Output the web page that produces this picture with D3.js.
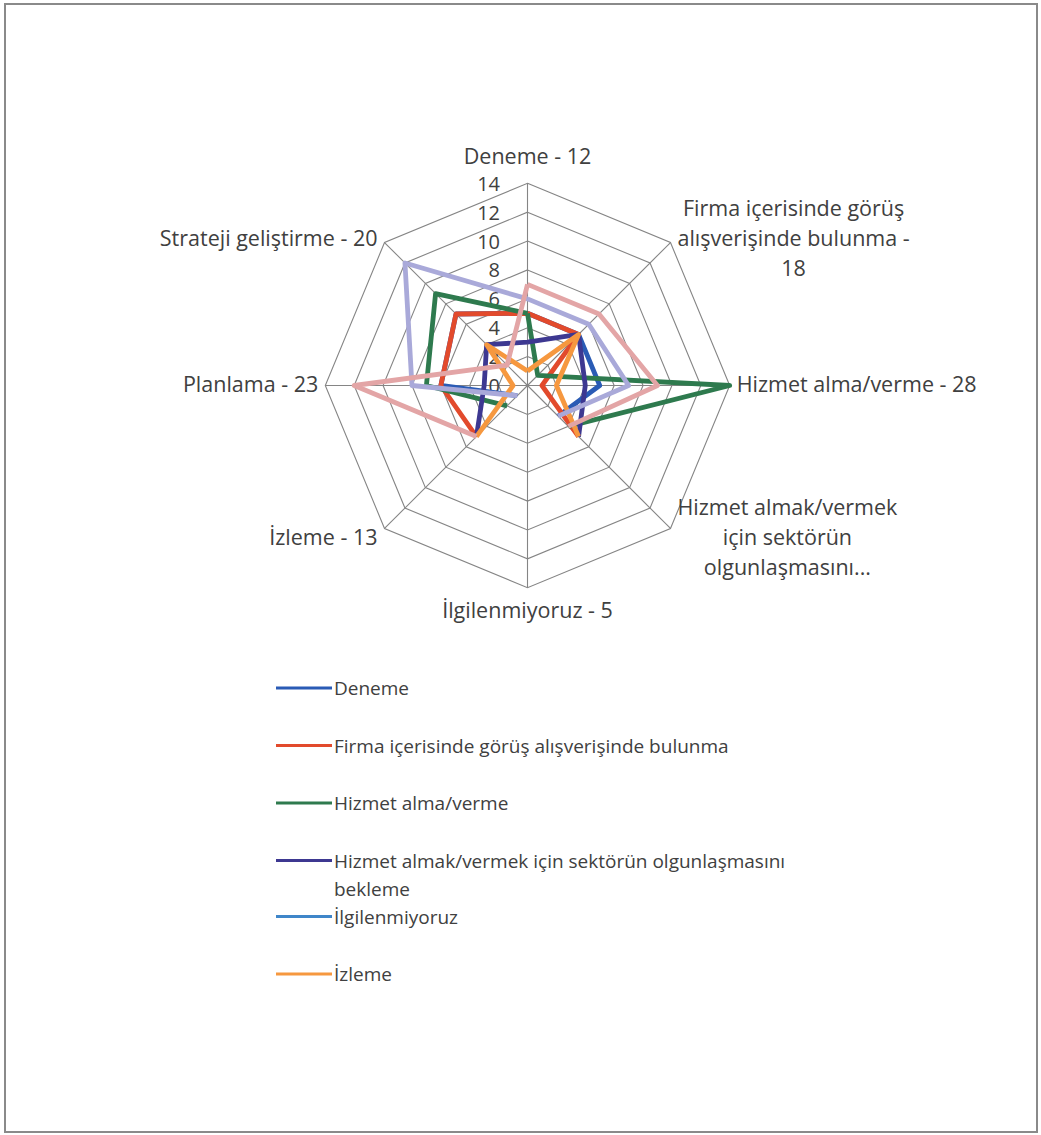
<!DOCTYPE html>
<html>
<head>
<meta charset="utf-8">
<script src="https://cdn.jsdelivr.net/npm/d3@7/dist/d3.min.js"></script>
<style>
  html, body { margin: 0; padding: 0; background: #fff; }
  svg { display: block; }
  text { font-family: "Open Sans", Lato, sans-serif; fill: #404040; }
</style>
</head>
<body>
<svg id="chart" width="1041" height="1135"></svg>
<script>
// Axis categories (clockwise from the top) and their wrapped label lines
const categories = [
  "Deneme - 12",
  "Firma içerisinde görüş alışverişinde bulunma - 18",
  "Hizmet alma/verme - 28",
  "Hizmet almak/vermek için sektörün olgunlaşmasını...",
  "İlgilenmiyoruz - 5",
  "İzleme - 13",
  "Planlama - 23",
  "Strateji geliştirme - 20"
];
const categoryLines = [
  ["Deneme - 12"],
  ["Firma içerisinde görüş", "alışverişinde bulunma -", "18"],
  ["Hizmet alma/verme - 28"],
  ["Hizmet almak/vermek", "için sektörün", "olgunlaşmasını..."],
  ["İlgilenmiyoruz - 5"],
  ["İzleme - 13"],
  ["Planlama - 23"],
  ["Strateji geliştirme - 20"]
];

// Radial value ticks
const ticks = [0, 2, 4, 6, 8, 10, 12, 14];

// Series names, colours and values (null = empty cell, drawn as a gap)
const seriesNames = [
  "Deneme",
  "Firma içerisinde görüş alışverişinde bulunma",
  "Hizmet alma/verme",
  "Hizmet almak/vermek için sektörün olgunlaşmasını bekleme",
  "İlgilenmiyoruz",
  "İzleme",
  "Planlama",
  "Strateji geliştirme"
];
const seriesColors = ["#2A5BB5", "#E24A2C", "#2E7A4E", "#3D3891", "#3F86C9", "#F6983F", "#A9A9D9", "#E3A5A6"];

const deneme         = [5, 5, 5, 3, null, 1, 6, 7];
const firma          = [5, 5, 1, 5, null, 5, 6, 7];
const hizmetAlma     = [5, 1, 14, 4, null, 2, 7, 9];
const hizmetAlmak    = [3, 5, 4, 5, null, 5, 3, 4];
const ilgilenmiyoruz = [0, 0, 0, 0, null, 0, 0, 0];
const izleme         = [1, 5, 2, 5, null, 5, 1, 4];
const planlama       = [6, 6, 7, 3, null, 1, 8, 12];
const strateji       = [7, 7, 9, 4, null, 5, 12, 2];

const seriesValues = [deneme, firma, hizmetAlma, hizmetAlmak, ilgilenmiyoruz, izleme, planlama, strateji];
const legendCount = 6; // entries that fit in the legend box

const svg = d3.select("#chart");
const cx = 527.5, cy = 385.5, R = 202.2;
const n = categories.length;

// Outer frame
svg.append("rect")
  .attr("x", 5).attr("y", 4).attr("width", 1032).attr("height", 1128)
  .attr("fill", "none").attr("stroke", "#8a8a8a").attr("stroke-width", 2);

const r = d3.scaleLinear().domain([0, 14]).range([0, R]);
const angle = d3.scaleLinear().domain([0, n]).range([0, 2 * Math.PI]);

const g = svg.append("g").attr("transform", `translate(${cx},${cy})`);

const pt = (i, v) => {
  const a = angle(i);
  return [Math.sin(a) * r(v), -Math.cos(a) * r(v)];
};

// Grid rings
const grid = g.append("g").attr("stroke", "#858585").attr("stroke-width", 1.1).attr("fill", "none");
ticks.filter(t => t > 0).forEach(t => {
  grid.append("path")
    .attr("d", d3.line()(d3.range(n).map(i => pt(i, t))) + "Z");
});
// Spokes
d3.range(n).forEach(i => {
  const [x, y] = pt(i, 14);
  grid.append("line").attr("x1", 0).attr("y1", 0).attr("x2", x).attr("y2", y);
});

// Tick labels along the top spoke
const tickFont = 20, labelFont = 21.5, legendFont = 19;
g.append("g").selectAll("text").data(ticks).join("text")
  .attr("x", -27.5)
  .attr("y", d => -r(d))
  .attr("text-anchor", "end")
  .attr("dominant-baseline", "central")
  .style("font-size", tickFont + "px")
  .text(d => d);

// Series lines; the path wraps back to the first value to close the shape
const line = d3.lineRadial()
  .angle(d => d.a)
  .radius(d => r(d.v))
  .defined(d => d.v != null);

seriesValues.forEach((vals, k) => {
  const pts = vals.concat([vals[0]]).map((v, i) => ({ a: angle(i), v }));
  g.append("path")
    .attr("d", line(pts))
    .attr("fill", "none")
    .attr("stroke", seriesColors[k])
    .attr("stroke-width", 4.8)
    .attr("stroke-linejoin", "round")
    .attr("stroke-linecap", "butt");
});

// Category labels around the outer ring
const lh = 30, gap = 7;
categoryLines.forEach((lines, i) => {
  const [vx, vy] = pt(i, 14);
  const s = Math.sin(angle(i)), c = Math.cos(angle(i));
  const lg = g.append("g");
  const texts = lines.map(l => lg.append("text")
    .style("font-size", labelFont + "px")
    .attr("dominant-baseline", "central")
    .attr("text-anchor", "middle")
    .text(l));
  const maxW = d3.max(texts, t => t.node().getComputedTextLength());
  let centerX, centerY;
  if (Math.abs(s) < 0.1) {
    centerX = vx;
    centerY = c > 0 ? vy - 28 - (lines.length - 1) * lh / 2 : vy + 22 + (lines.length - 1) * lh / 2;
  } else {
    centerX = s > 0 ? vx + gap + maxW / 2 : vx - gap - maxW / 2;
    centerY = vy + (c > 0.1 ? -5 : c < -0.1 ? 8 : -2);
  }
  texts.forEach((t, j) => {
    t.attr("x", centerX).attr("y", centerY + (j - (lines.length - 1) / 2) * lh);
  });
});

// Legend
const legend = svg.append("g");
let ly = 688;
const legendLines = [
  ["Deneme"],
  ["Firma içerisinde görüş alışverişinde bulunma"],
  ["Hizmet alma/verme"],
  ["Hizmet almak/vermek için sektörün olgunlaşmasını", "bekleme"],
  ["İlgilenmiyoruz"],
  ["İzleme"]
];
legendLines.slice(0, legendCount).forEach((lines, k) => {
  legend.append("line")
    .attr("x1", 276).attr("x2", 332).attr("y1", ly).attr("y2", ly)
    .attr("stroke", seriesColors[k]).attr("stroke-width", 3);
  lines.forEach((l, j) => {
    legend.append("text")
      .attr("x", 334).attr("y", ly + j * 28)
      .attr("dominant-baseline", "central")
      .style("font-size", legendFont + "px")
      .text(l);
  });
  ly += lines.length > 1 ? lines.length * 28 : 57.5;
});
</script>
</body>
</html>
